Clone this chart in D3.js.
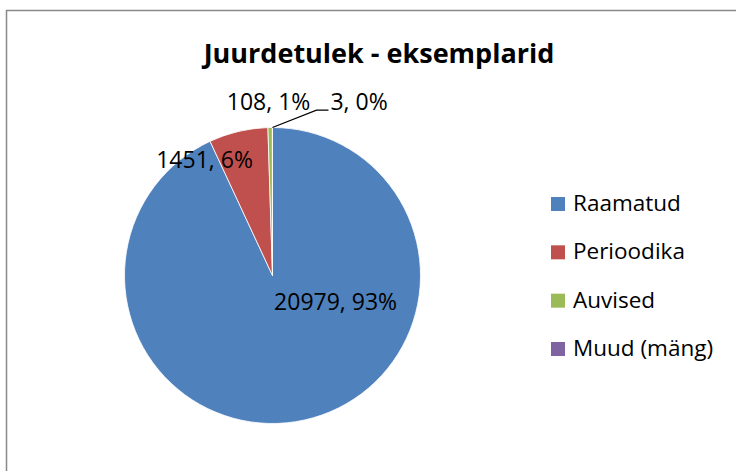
<!DOCTYPE html>
<html>
<head>
<meta charset="utf-8">
<script src="https://cdn.jsdelivr.net/npm/d3@7"></script>
<style>
  body { margin: 0; background: #fff; }
  svg { display: block; }
  text { font-family: "Open Sans", "Noto Sans", sans-serif; fill: #000; }
</style>
</head>
<body>
<svg id="chart"></svg>
<script>
// data
var categories = ["Raamatud", "Perioodika", "Auvised", "Muud (mäng)"];
var counts = [20979, 1451, 108, 3];
var colors = ["#4f81bd", "#c0504d", "#9bbb59", "#8064a2"];
var title = "Juurdetulek - eksemplarid";

// where Excel put each label: angle (deg, clockwise from top) and radius as share of r
var labelAt = [
  { a: 112, k: 0.46 },
  { a: -30.3, k: 0.91 },
  { a: -1.3, k: 1.18 },
  { a: 26.4, k: 1.316 }
];

var width = 736, height = 471;
var cx = 272.5, cy = 275.5, r = 148;

var svg = d3.select("#chart").attr("width", width).attr("height", height);

// chart area border (runs off the right and bottom edge)
svg.append("rect")
  .attr("x", 6.5).attr("y", 10.5)
  .attr("width", 760).attr("height", 500)
  .attr("fill", "none")
  .attr("stroke", "#898989")
  .attr("stroke-width", 1.5);

svg.append("text")
  .attr("x", 379).attr("y", 63)
  .attr("text-anchor", "middle")
  .style("font-weight", "bold")
  .style("font-size", "27px")
  .text(title);

// percentages the way Excel rounds them (largest remainder, sums to 100)
function percents(vals) {
  var total = d3.sum(vals);
  var raw = vals.map(function(v) { return v / total * 100; });
  var out = raw.map(Math.floor);
  var left = 100 - d3.sum(out);
  var order = d3.range(vals.length).sort(function(a, b) {
    return (raw[b] - out[b]) - (raw[a] - out[a]);
  });
  for (var i = 0; i < left; i++) out[order[i]] += 1;
  return out;
}
var pct = percents(counts);

var pie = d3.pie().sort(null).value(function(d) { return d; });
var arcs = pie(counts);
var arc = d3.arc().innerRadius(0).outerRadius(r);

var g = svg.append("g").attr("transform", "translate(" + cx + "," + cy + ")");

g.selectAll("path.slice")
  .data(arcs)
  .enter().append("path")
  .attr("class", "slice")
  .attr("d", arc)
  .attr("fill", function(d, i) { return colors[i]; })
  .attr("stroke", "#fff")
  .attr("stroke-width", 0.8);

var labels = g.selectAll("text.lbl")
  .data(arcs)
  .enter().append("text")
  .attr("class", "lbl")
  .attr("text-anchor", "middle")
  .attr("dominant-baseline", "central")
  .style("font-size", "23px")
  .each(function(d, i) {
    var p = d3.pointRadial(labelAt[i].a * Math.PI / 180, labelAt[i].k * r);
    d3.select(this).attr("x", p[0]).attr("y", p[1]);
  })
  .text(function(d, i) { return counts[i] + ", " + pct[i] + "%"; });

// leader line for the smallest slice
var last = arcs.length - 1;
var lb = labels.nodes()[last].getBBox();
var mid = (arcs[last].startAngle + arcs[last].endAngle) / 2;
var p0 = d3.pointRadial(mid, r);
var yEnd = lb.y + lb.height - 7;
g.append("path")
  .attr("d", d3.line()([p0, [lb.x - 14, yEnd], [lb.x - 2, yEnd]]))
  .attr("fill", "none")
  .attr("stroke", "#000")
  .attr("stroke-width", 1.3);

// legend
var legend = svg.append("g").attr("transform", "translate(551,0)");
var rowY = d3.scalePoint().domain(categories).range([211, 356]);
var rows = legend.selectAll("g.row")
  .data(categories)
  .enter().append("g")
  .attr("class", "row")
  .attr("transform", function(d) { return "translate(0," + rowY(d) + ")"; });
rows.append("rect")
  .attr("x", 0).attr("y", -14)
  .attr("width", 14).attr("height", 14)
  .attr("fill", function(d, i) { return colors[i]; });
rows.append("text")
  .attr("x", 22).attr("y", 0)
  .style("font-size", "22.5px")
  .text(function(d) { return d; });
</script>
</body>
</html>
